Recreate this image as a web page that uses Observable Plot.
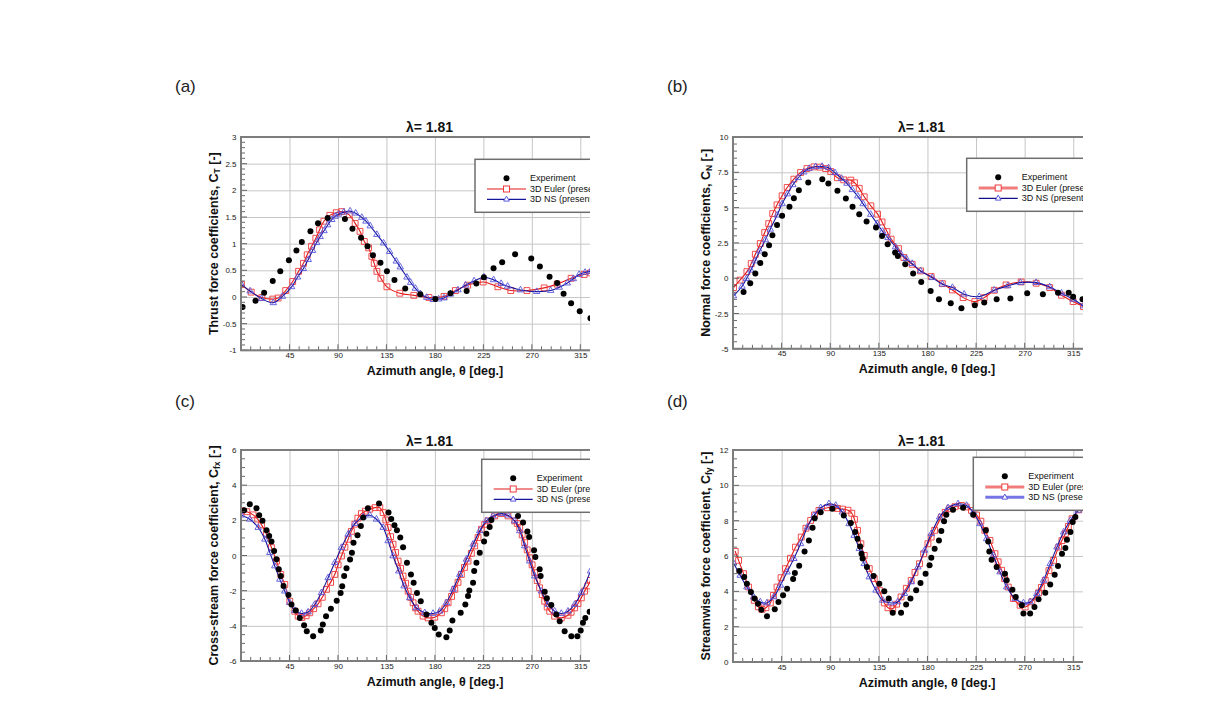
<!DOCTYPE html>
<html><head><meta charset="utf-8">
<script src="https://cdn.jsdelivr.net/npm/d3@7"></script>
<script src="https://cdn.jsdelivr.net/npm/@observablehq/plot@0.6"></script>
<style>
body{margin:0;background:#fff;}
#root{position:relative;width:1215px;height:708px;overflow:hidden;font-family:"Liberation Sans",Arial,sans-serif;background:#fff;}
.plabel{position:absolute;font-size:17px;line-height:17px;color:#222;font-family:"Liberation Sans",Arial,sans-serif;}
</style></head><body><div id="root"></div>
<script>
// ---------- shared axis values ----------
const xDomain = [0, 324];
const xMajor = [45, 90, 135, 180, 225, 270, 315];
const titleText = "λ= 1.81";
const xLabelText = "Azimuth angle, θ [deg.]";
const legendLabels = ["Experiment", "3D Euler (present)", "3D NS (present)"];

// ---------- (a) thrust ----------
const aYDomain = [-1, 3];
const aYMajor = [-1, -0.5, 0, 0.5, 1, 1.5, 2, 2.5, 3];
const aExperiment = [[1,-0.18],[13,-0.06],[21,0.09],[29,0.31],[36,0.49],[44,0.70],[51,0.88],[56,1.04],[64,1.24],[71,1.39],[80,1.49],[96,1.47],[103,1.29],[111,1.12],[117,0.96],[122,0.79],[129,0.65],[135,0.49],[142,0.33],[152,0.17],[166,0.06],[180,-0.03],[194,0.08],[209,0.12],[218,0.26],[225,0.38],[234,0.55],[242,0.66],[254,0.81],[269,0.73],[277,0.58],[286,0.39],[293,0.27],[299,0.07],[306,-0.11],[314,-0.26],[324,-0.39]];
const aEuler = [[0,0.24],[9,0.10],[19,0.0],[29,-0.03],[34,-0.01],[41,0.13],[47.5,0.30],[53,0.49],[57.5,0.64],[61,0.80],[65,0.96],[69,1.11],[72.5,1.27],[76.5,1.43],[82,1.54],[88,1.59],[93,1.61],[100,1.55],[105.5,1.39],[110,1.24],[114,1.05],[118,0.93],[121,0.77],[123.2,0.64],[125.7,0.49],[129.4,0.36],[135,0.20],[147,0.08],[160,0.04],[174,0.0],[188,0.02],[198.6,0.13],[210,0.23],[224.4,0.29],[238,0.20],[250,0.13],[265,0.13],[281,0.18],[293,0.25],[306,0.36],[318,0.43],[324,0.46]];
const aNS = [[0,0.24],[8,0.12],[18.6,-0.02],[29.5,-0.10],[38,0.02],[46.5,0.20],[52,0.38],[57.4,0.54],[62,0.71],[66,0.88],[69.8,1.03],[73,1.14],[76.6,1.25],[80,1.36],[83.8,1.46],[87,1.52],[90,1.56],[95,1.60],[100.8,1.62],[106,1.58],[111.7,1.50],[115.5,1.43],[119.5,1.34],[125.7,1.18],[131.9,1.02],[137.5,0.86],[143.7,0.68],[147.4,0.57],[153.6,0.38],[157,0.28],[161.4,0.17],[166,0.07],[172,0.0],[178,-0.04],[183,-0.03],[188,-0.01],[194,0.06],[201,0.14],[208,0.23],[216,0.31],[225,0.38],[234,0.33],[241,0.26],[247,0.21],[259,0.14],[274,0.11],[287,0.13],[295,0.19],[302.5,0.27],[308,0.35],[313.4,0.43],[319,0.47],[324,0.49]];

// ---------- (b) normal ----------
const bYDomain = [-5, 10];
const bYMajor = [-5, -2.5, 0, 2.5, 5, 7.5, 10];
const bExperiment = [[9.3,-0.94],[15.5,-0.32],[20.2,0.36],[24.8,1.12],[28.9,1.73],[32.9,2.37],[36,3.08],[40.3,3.81],[45,4.45],[51.8,5.09],[55.9,5.70],[60.5,6.27],[69.2,6.81],[82.2,7.05],[87.8,6.74],[96.2,6.22],[104,5.68],[110.2,5.09],[116.4,4.57],[123.2,4.05],[131.9,3.62],[137.5,3.03],[142.7,2.44],[149.6,1.85],[152.1,1.61],[159,1.02],[166.3,0.36],[173.8,-0.23],[182.5,-0.87],[190.2,-1.46],[201.1,-1.74],[211,-2.1],[223.4,-1.88],[232.1,-1.69],[243.6,-1.46],[256.3,-1.41],[271.9,-1.03],[286.4,-1.1],[300.4,-0.99],[310.3,-0.99],[314.4,-1.27],[323.1,-1.46]];
const bEuler = [[0,-0.63],[6,-0.1],[12.4,0.50],[16.4,1.07],[20.2,1.73],[24.8,2.49],[28.9,3.27],[32.6,3.90],[36.3,4.61],[40.3,5.23],[45,5.87],[49.7,6.46],[55.9,7.05],[62.1,7.52],[68,7.8],[74.5,7.92],[80,7.9],[85.3,7.8],[90,7.59],[96.2,7.15],[102,7.0],[108.6,6.98],[112,6.8],[116.4,6.4],[121,5.8],[127.2,5.16],[133.4,4.57],[137.5,4.02],[142.1,3.34],[145.9,2.8],[152.7,2.13],[157.7,1.5],[165.4,1.02],[173.2,0.55],[183,0.15],[193.3,-0.35],[202.7,-0.80],[212.6,-1.34],[223.4,-1.62],[232.1,-1.34],[241.4,-0.82],[252.3,-0.44],[266.3,-0.23],[280.2,-0.32],[292.7,-0.63],[303.6,-1.17],[314.4,-1.62],[324,-1.98]];
const bNS = [[0,-1.22],[7.8,-0.55],[12,0.0],[16,0.6],[20,1.25],[24.2,1.95],[29.5,2.75],[34,3.5],[40.3,4.5],[45,5.3],[50,6.0],[55,6.65],[60,7.15],[65,7.55],[70,7.8],[76,7.93],[82,7.95],[88,7.85],[94,7.5],[100,7.1],[105,6.75],[110,6.3],[115,5.85],[120,5.3],[127,4.55],[133,3.9],[138,3.35],[143,2.9],[150,2.25],[155,1.75],[160,1.42],[165.4,1.07],[173.2,0.55],[184,0.07],[193.3,-0.39],[202.7,-0.63],[213.5,-1.1],[227.5,-1.27],[241.4,-0.82],[253.9,-0.51],[265.6,-0.28],[280.2,-0.28],[292.7,-0.58],[303.6,-1.03],[314.4,-1.46],[324,-1.93]];

// ---------- (c) cross-stream ----------
const cYDomain = [-6, 6];
const cYMajor = [-6, -4, -2, 0, 2, 4, 6];
const cExperiment = [[2.5,2.6],[7.7,2.95],[13.9,2.72],[16.4,2.32],[19.5,2.0],[23.2,1.46],[25.7,1.14],[27.8,0.82],[30.3,0.29],[32.5,-0.19],[34.6,-0.76],[36.5,-1.14],[39,-1.71],[43.6,-2.22],[46.4,-2.76],[50.4,-3.1],[54.1,-3.52],[58.1,-3.94],[60.6,-4.28],[66.5,-4.56],[73.6,-4.24],[75.5,-3.9],[78.5,-3.43],[83,-3.0],[88.4,-2.55],[92,-2.1],[93.5,-1.72],[95.3,-1.14],[97.5,-0.7],[100.8,-0.2],[102.5,0.19],[104,0.76],[107.7,1.18],[110.8,1.71],[113,2.19],[117.3,2.72],[127.7,2.98],[136.5,2.48],[139,2.1],[142,1.75],[144.3,1.47],[147.4,1.05],[150,0.5],[153.6,-0.38],[157.3,-1.05],[159.8,-1.52],[162.9,-2.1],[166.4,-2.57],[171.7,-3.33],[176.3,-3.8],[179.4,-4.09],[183.1,-4.47],[190.2,-4.62],[193.3,-4.24],[195.8,-3.67],[203.5,-3.23],[207.8,-2.76],[210.3,-2.28],[211.5,-1.96],[215,-1.52],[216,-0.86],[218.1,-0.38],[221.2,0.19],[225.2,0.82],[227.3,1.27],[230.4,1.65],[232,2.05],[256.7,2.28],[261.4,1.9],[265.4,1.39],[267,1.08],[271.6,0.32],[272.8,-0.06],[276.8,-0.76],[277.7,-1.14],[281.5,-2.03],[283.5,-2.4],[287.6,-2.79],[292.3,-3.33],[295.4,-3.71],[300,-4.28],[306.2,-4.56],[311.8,-4.56],[314.9,-4.24],[317,-3.8],[319.2,-3.52],[323.2,-3.17]];
const cEuler = [[0,2.57],[5,2.52],[10.8,2.34],[15,2.1],[18.6,1.77],[23.2,1.24],[27.8,0.48],[32.5,-0.29],[36.5,-1.05],[40.2,-1.62],[44.8,-2.57],[49.5,-3.14],[52.6,-3.42],[56,-3.5],[60,-3.4],[63.4,-3.23],[67,-3.0],[71.1,-2.72],[75,-2.35],[78.9,-1.9],[82.7,-1.5],[86.6,-1.05],[89.7,-0.5],[92.8,0],[96,0.5],[99,0.95],[102,1.4],[105.2,1.81],[108,2.15],[111.3,2.41],[115,2.55],[119.1,2.66],[124,2.75],[128.4,2.75],[131.5,2.47],[134,2.05],[136.1,1.62],[138.4,1.1],[140.7,0.67],[143,0.2],[145.4,-0.29],[147.7,-0.7],[150,-1.14],[152.4,-1.55],[154.7,-2.0],[157,-2.35],[159.3,-2.66],[161.6,-2.95],[163.9,-3.14],[168.6,-3.42],[173.2,-3.52],[179.4,-3.48],[185.6,-3.23],[188.7,-3.0],[191.8,-2.66],[195,-2.3],[198,-1.9],[201,-1.5],[204.1,-1.05],[207,-0.65],[210.3,-0.29],[213.4,0.15],[216.5,0.57],[219.6,1.05],[222.7,1.52],[225.8,1.8],[228.9,2.0],[235.1,2.28],[241.3,2.41],[247.4,2.28],[253.6,2.0],[256,1.85],[258.3,1.62],[260.6,1.2],[262.9,0.76],[265.2,0.35],[267.5,-0.1],[269.8,-0.5],[272.2,-0.95],[274.5,-1.4],[276.8,-1.81],[279.2,-2.2],[281.5,-2.57],[283.8,-2.9],[286.1,-3.14],[290.7,-3.42],[296.9,-3.52],[303.1,-3.37],[306,-3.2],[309.3,-2.95],[312.4,-2.7],[315.5,-2.38],[318.5,-2.0],[321.5,-1.7],[324,-1.39]];
const cNS = [[0,2.32],[7.7,2.09],[15.5,1.62],[21.7,0.95],[26.3,0.19],[30.9,-0.57],[35.6,-1.33],[40.2,-2.0],[44.8,-2.66],[49.5,-3.1],[55.7,-3.27],[61.9,-3.19],[68,-2.76],[74.2,-2.09],[80.4,-1.24],[86.6,-0.38],[92.8,0.48],[99,1.24],[105.2,1.84],[112.9,2.22],[119.1,2.32],[125.3,2.09],[131.5,1.62],[136.1,0.86],[140.7,0],[146,-0.86],[150.9,-1.71],[156.2,-2.38],[162.4,-2.95],[170.1,-3.23],[177.8,-3.27],[184,-3.14],[190.2,-2.66],[196.4,-1.9],[202.6,-1.05],[208.8,-0.19],[215,0.67],[221.2,1.43],[227.3,2.0],[233.5,2.28],[241.3,2.41],[247.4,2.32],[253.6,2.0],[258.3,1.43],[262.9,0.57],[267.5,-0.29],[272.2,-1.14],[278.4,-2.0],[284.6,-2.76],[290.7,-3.14],[296.9,-3.27],[303.1,-3.14],[309.3,-2.76],[315.5,-2.09],[324,-0.86]];

// ---------- (d) streamwise ----------
const dYDomain = [0, 12];
const dYMajor = [0, 2, 4, 6, 8, 10, 12];
const dExperiment = [[5.3,5.18],[9.9,4.84],[12.4,4.46],[16.1,3.99],[19.5,3.62],[22.7,3.33],[25.8,2.99],[31,2.62],[38.2,3.01],[41.6,3.43],[45.9,3.80],[49.6,4.18],[55.2,4.73],[56.8,5.07],[60.8,5.48],[65.8,6.29],[69.8,6.91],[73.2,7.63],[75.1,8.17],[80.7,8.51],[91.5,8.70],[102.1,8.32],[108.6,7.89],[112.6,7.38],[114.8,7.0],[117.3,6.57],[118.5,6.16],[119.5,5.88],[123.5,5.40],[129.7,4.90],[135,4.46],[139.6,4.03],[143.7,3.62],[147.4,2.82],[155.1,2.82],[159.8,3.28],[163.8,3.62],[169.1,4.09],[173.1,4.50],[177.8,5.03],[181.5,5.5],[183.1,5.93],[186.2,6.44],[190.2,6.91],[192.4,7.44],[194.9,8.0],[197,8.36],[203.2,8.64],[212.5,8.76],[221.9,8.36],[233.6,7.48],[235.8,6.85],[236.8,6.29],[238.9,5.82],[243.6,5.40],[251.3,5.03],[252.9,4.65],[258.2,4.12],[261.3,3.71],[266.9,3.24],[268.4,2.77],[274.6,2.77],[278.6,3.14],[282.4,3.58],[288.6,3.95],[293.2,4.41],[297.3,4.97],[300.4,5.46],[304.1,6.16],[307.2,6.48],[308.7,6.95],[311.9,7.38],[314,7.95],[316.5,8.23]];
const dEuler = [[1.6,6.29],[4.7,5.78],[9.3,5.03],[14,4.27],[19.2,3.52],[23,3.15],[26.4,3.01],[30,3.1],[34.1,3.37],[37,3.8],[40.3,4.27],[44,4.8],[48.1,5.31],[52.7,5.9],[57.4,6.53],[62.7,7.1],[67,7.6],[71.4,8.04],[75,8.35],[79.1,8.61],[86.9,8.76],[92,8.78],[96.2,8.72],[101,8.68],[106,8.62],[109.5,8.45],[112,8.1],[114.8,7.48],[117.9,6.72],[121,6.06],[125.7,5.31],[130.3,4.75],[135,4.09],[139.6,3.37],[143,3.1],[147.4,3.05],[151,3.3],[155.1,3.71],[160,4.2],[164.5,4.65],[168,5.1],[172.2,5.59],[176,6.15],[180,6.72],[183,7.1],[186.2,7.48],[192.4,8.23],[196,8.5],[200.1,8.70],[205,8.82],[211,8.89],[215.5,8.8],[220.3,8.61],[225,8.35],[229,8.0],[232.7,7.48],[237.4,6.91],[242,6.16],[245,5.7],[248.2,5.22],[251,4.75],[254.4,4.27],[259.1,3.62],[265.3,3.24],[270,3.14],[276.2,3.43],[282.4,3.94],[285,4.25],[288.6,4.65],[292,5.2],[296.3,5.78],[301,6.53],[304,6.9],[307.2,7.29],[310,7.7],[313.4,8.14],[319.6,8.64],[324,8.95]];
const dNS = [[0,5.63],[6.2,4.93],[12.4,4.27],[18.6,3.71],[24.8,3.43],[31,3.37],[37.2,3.71],[43.4,4.37],[49.6,5.12],[55.9,5.88],[62.1,6.72],[68.3,7.66],[74.5,8.32],[80.7,8.76],[88.4,8.98],[94.6,8.89],[100.8,8.51],[107,7.85],[111.7,7.19],[116.4,6.44],[121,5.59],[125.7,4.84],[131.9,4.09],[138.1,3.52],[145.8,3.37],[152,3.43],[158.3,3.9],[164.5,4.56],[170.7,5.4],[176.9,6.35],[183.1,7.29],[190.8,8.23],[198.6,8.76],[207.9,8.98],[215.7,8.89],[221.9,8.51],[228.1,7.85],[234.3,7.0],[240.5,6.06],[246.7,5.12],[252.9,4.27],[260.7,3.62],[268.4,3.37],[274.6,3.43],[280.8,3.9],[287,4.65],[293.2,5.59],[299.4,6.53],[305.6,7.38],[311.8,8.04],[319,8.61],[324,8.98]];

// ---------- styling constants ----------
const FONT = '"Liberation Sans", Arial, Helvetica, sans-serif';
const RED_LINE = "#e01818", RED_MARK = "#f03a3a";
const BLUE_LINE = "#15159e", BLUE_MARK = "#5858dc";
const GRID = "#c6c6c6", FRAME = "#7d7d7d";

const panels = [
  {id:"a", tag:"(a)", tagPos:[175,78], frame:{left:241, top:136.7, right:590, bottom:350},
   yDomain:aYDomain, yMajor:aYMajor, yMinorStep:0.1, yLabel:["Thrust force coefficients, C","T"," [-]"],
   exp:aExperiment, euler:aEuler, ns:aNS, legend:{dx:234, dy:22.3},
   eulerLegend:{stroke:RED_LINE, width:1.2}, nsLegend:{stroke:BLUE_LINE, width:1.2}},
  {id:"b", tag:"(b)", tagPos:[667,78], frame:{left:733, top:136.7, right:1083, bottom:348.5},
   yDomain:bYDomain, yMajor:bYMajor, yMinorStep:0.5, yLabel:["Normal force coefficients, C","N"," [-]"],
   exp:bExperiment, euler:bEuler, ns:bNS, legend:{dx:233.7, dy:21.3},
   eulerLegend:{stroke:"#f07c7c", width:3}, nsLegend:{stroke:"#10108a", width:1.2}},
  {id:"c", tag:"(c)", tagPos:[175,393], frame:{left:241, top:450, right:590, bottom:661},
   yDomain:cYDomain, yMajor:cYMajor, yMinorStep:0.5, yLabel:["Cross-stream force coefficient, C","fx"," [-]"],
   exp:cExperiment, euler:cEuler, ns:cNS, legend:{dx:240.7, dy:9.3},
   eulerLegend:{stroke:RED_LINE, width:1.2}, nsLegend:{stroke:BLUE_LINE, width:1.2}},
  {id:"d", tag:"(d)", tagPos:[667,393], frame:{left:733, top:450, right:1083, bottom:662},
   yDomain:dYDomain, yMajor:dYMajor, yMinorStep:0.5, yLabel:["Streamwise force coefficient, C","fy"," [-]"],
   exp:dExperiment, euler:dEuler, ns:dNS, legend:{dx:240.3, dy:7.3},
   eulerLegend:{stroke:"#f07c7c", width:3}, nsLegend:{stroke:"#7575e6", width:3}}
];

const toRows = (pairs) => pairs.map(([theta, value]) => ({theta, value}));

function decor(cfg, mL, mR, mT, mB) {
  return (index, scales, values, dim) => {
    const W = dim.width, H = dim.height;
    const x0 = mL, x1 = W - mR, y0 = mT, y1 = H - mB;
    const g = d3.create("svg:g").attr("font-family", FONT);
    // minor ticks
    const yMinor = d3.range(cfg.yDomain[0], cfg.yDomain[1] + 1e-9, cfg.yMinorStep);
    for (const v of yMinor) {
      const y = scales.y(v);
      const major = cfg.yMajor.some(m => Math.abs(m - v) < 1e-6);
      g.append("line").attr("x1", x0).attr("x2", x0 + (major ? 6 : 4)).attr("y1", y).attr("y2", y)
        .attr("stroke", "#444").attr("stroke-width", 0.8);
    }
    const xMinor = d3.range(9, xDomain[1], 9);
    for (const t of xMinor) {
      const x = scales.x(t);
      const major = t % 45 === 0;
      g.append("line").attr("x1", x).attr("x2", x).attr("y1", y1).attr("y2", y1 - (major ? 6 : 4))
        .attr("stroke", "#444").attr("stroke-width", 0.8);
    }
    // frame
    g.append("path").attr("d", `M${x1},${y0}H${x0}V${y1}H${x1}`).attr("fill", "none")
      .attr("stroke", FRAME).attr("stroke-width", 2);
    // title
    g.append("text").attr("x", x0 + 188.5).attr("y", y0 - 4.5).attr("text-anchor", "middle")
      .attr("font-size", 14).attr("font-weight", "bold").attr("fill", "#111").text(titleText);
    // x label
    g.append("text").attr("x", x0 + 194).attr("y", y1 + 24.5).attr("text-anchor", "middle")
      .attr("font-size", 12.5).attr("font-weight", "bold").attr("fill", "#111").text(xLabelText);
    // y label
    const yl = g.append("text").attr("transform", `translate(${x0 - 27.5},${(y0 + y1) / 2}) rotate(-90)`)
      .attr("text-anchor", "middle").attr("dominant-baseline", "central")
      .attr("font-size", 12.5).attr("font-weight", "bold").attr("fill", "#111");
    yl.append("tspan").text(cfg.yLabel[0]);
    yl.append("tspan").attr("dy", 3.5).attr("font-size", 8.5).text(cfg.yLabel[1]);
    yl.append("tspan").attr("dy", -3.5).text(cfg.yLabel[2]);
    // legend (clipped to frame): clip on an untransformed wrapper
    const clipId = "clip-" + cfg.id;
    g.append("clipPath").attr("id", clipId).append("rect")
      .attr("x", x0).attr("y", y0).attr("width", x1 - x0).attr("height", y1 - y0);
    const wrap = g.append("g").attr("clip-path", `url(#${clipId})`);
    const lg = wrap.append("g").attr("text-anchor", "start")
      .attr("transform", `translate(${x0 + cfg.legend.dx},${y0 + cfg.legend.dy})`);
    lg.append("rect").attr("x", 0).attr("y", 0).attr("width", 150).attr("height", 53)
      .attr("fill", "#fff").attr("stroke", "#6e6e6e").attr("stroke-width", 1.5);
    const rowsY = [19, 29.7, 40];
    lg.append("circle").attr("cx", 31.5).attr("cy", rowsY[0]).attr("r", 3).attr("fill", "#000");
    lg.append("line").attr("x1", 12).attr("x2", 51).attr("y1", rowsY[1]).attr("y2", rowsY[1])
      .attr("stroke", cfg.eulerLegend.stroke).attr("stroke-width", cfg.eulerLegend.width);
    lg.append("rect").attr("x", 28.5).attr("y", rowsY[1] - 3).attr("width", 6).attr("height", 6)
      .attr("fill", "#fff").attr("stroke", RED_MARK).attr("stroke-width", 1);
    lg.append("line").attr("x1", 12).attr("x2", 51).attr("y1", rowsY[2]).attr("y2", rowsY[2])
      .attr("stroke", cfg.nsLegend.stroke).attr("stroke-width", cfg.nsLegend.width);
    lg.append("path").attr("d", `M31.5,${rowsY[2] - 3.2}L34.3,${rowsY[2] + 1.8}L28.7,${rowsY[2] + 1.8}Z`)
      .attr("fill", "#fff").attr("stroke", BLUE_MARK).attr("stroke-width", 1);
    legendLabels.forEach((t, i) => {
      lg.append("text").attr("x", 55).attr("y", rowsY[i]).attr("dominant-baseline", "central")
        .attr("text-anchor", "start")
        .attr("font-size", 9).attr("fill", "#111").text(t);
    });
    return g.node();
  };
}

const root = document.getElementById("root");
for (const cfg of panels) {
  const mL = 80, mR = 10, mT = 28, mB = 32;
  const fw = cfg.frame.right - cfg.frame.left, fh = cfg.frame.bottom - cfg.frame.top;
  const W = mL + fw + mR, H = mT + fh + mB;
  const exp = toRows(cfg.exp), euler = toRows(cfg.euler), ns = toRows(cfg.ns);
  const chart = Plot.plot({
    width: W, height: H, marginLeft: mL, marginRight: mR, marginTop: mT, marginBottom: mB,
    x: {domain: xDomain}, y: {domain: cfg.yDomain},
    style: {fontFamily: FONT, background: "transparent", color: "#222", overflow: "visible"},
    marks: [
      Plot.gridX(xMajor, {stroke: GRID, strokeOpacity: 1, strokeWidth: 1}),
      Plot.gridY(cfg.yMajor, {stroke: GRID, strokeOpacity: 1, strokeWidth: 1}),
      Plot.axisX(xMajor, {tickSize: 0, tickPadding: 1.5, fontSize: 8, label: null, tickFormat: d => String(d)}),
      Plot.axisY(cfg.yMajor, {tickSize: 0, tickPadding: 5, fontSize: 8, label: null, tickFormat: d => String(d)}),
      Plot.line(euler, {x: "theta", y: "value", stroke: RED_LINE, strokeWidth: 1.1, curve: "catmull-rom", clip: true}),
      Plot.dot(euler, {x: "theta", y: "value", symbol: "square", r: 3.3, stroke: RED_MARK, strokeWidth: 0.9, fill: "none", clip: true}),
      Plot.line(ns, {x: "theta", y: "value", stroke: BLUE_LINE, strokeWidth: 1.1, curve: "catmull-rom", clip: true}),
      Plot.dot(ns, {x: "theta", y: "value", symbol: "triangle", r: 2.4, stroke: BLUE_MARK, strokeWidth: 0.9, fill: "none", clip: true}),
      Plot.dot(exp, {x: "theta", y: "value", r: 3, fill: "#000", stroke: "none", clip: true}),
      decor(cfg, mL, mR, mT, mB)
    ]
  });
  chart.style.position = "absolute";
  chart.style.left = (cfg.frame.left - mL) + "px";
  chart.style.top = (cfg.frame.top - mT) + "px";
  root.appendChild(chart);
  const tag = document.createElement("div");
  tag.className = "plabel";
  tag.style.left = cfg.tagPos[0] + "px";
  tag.style.top = cfg.tagPos[1] + "px";
  tag.textContent = cfg.tag;
  root.appendChild(tag);
}
</script></body></html>
